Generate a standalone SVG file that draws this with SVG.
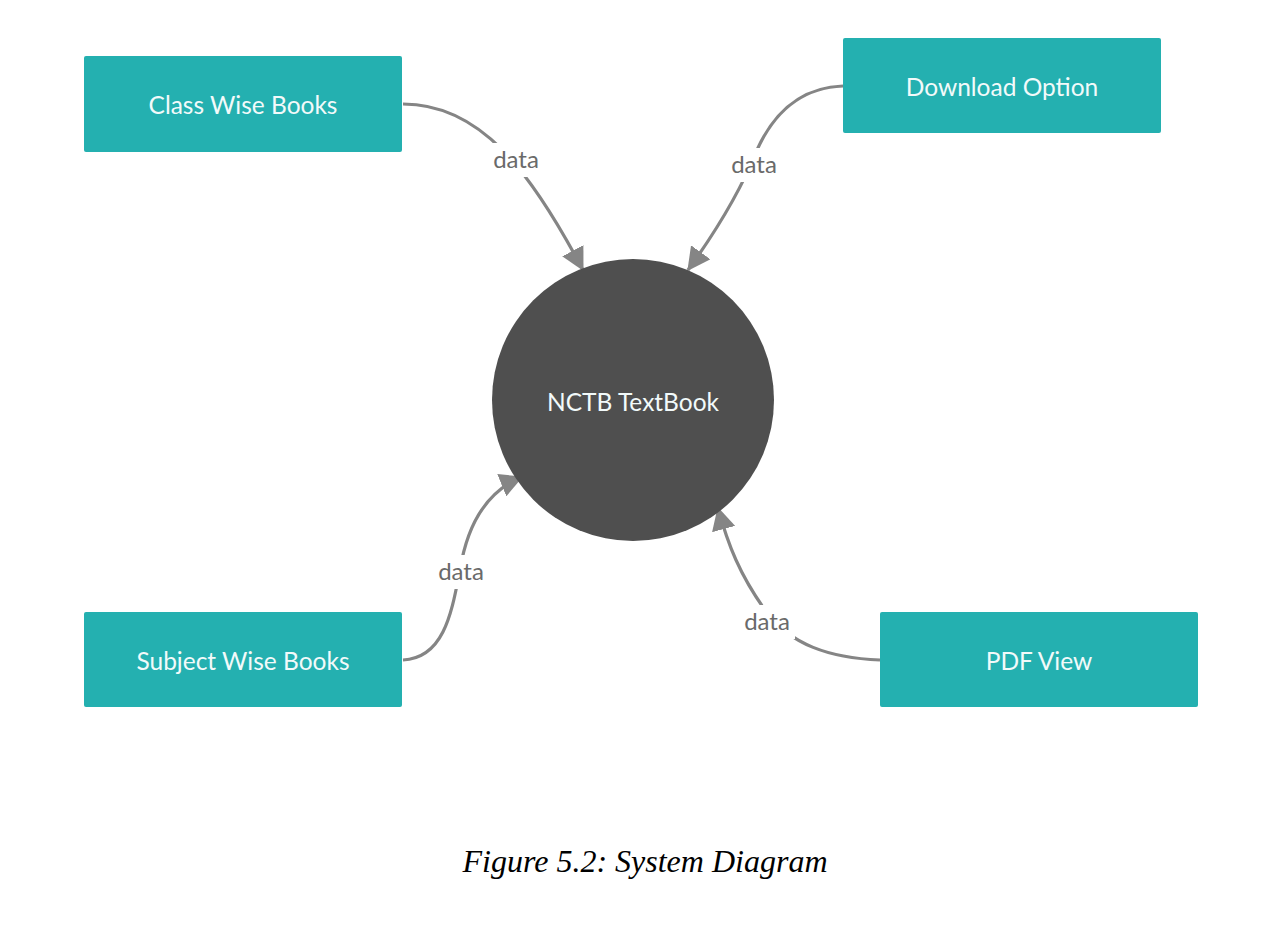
<svg xmlns="http://www.w3.org/2000/svg" width="1286" height="930" viewBox="0 0 1286 930">
<style>
.box{fill:#24b0b0;}
.btxt{font-family:Lato,"Open Sans",sans-serif;font-size:24.5px;fill:#f2fafa;text-anchor:middle;}
.conn{fill:none;stroke:#858585;stroke-width:3.2;}
.lbl{font-family:Lato,"Open Sans",sans-serif;font-size:24px;fill:#6a6a6a;text-anchor:middle;}
.lblbg{fill:#ffffff;}
.cap{font-family:"Liberation Serif","Times New Roman",serif;font-style:italic;font-size:32px;fill:#000;text-anchor:middle;}
</style>
<defs>
<marker id="arr" markerUnits="userSpaceOnUse" markerWidth="24" markerHeight="24" refX="20" refY="11" orient="auto" viewBox="0 0 22 22">
<path d="M0,0 L21,11 L0,22 z" fill="#858585"/>
</marker>
</defs>
<rect width="1286" height="930" fill="#ffffff"/>
<g id="connectors">
<path class="conn" d="M403,104 C 480,104 530,170 583,270" marker-end="url(#arr)"/>
<path class="conn" d="M843,86 Q 785,88 757,150 Q 735,205 688,270" marker-end="url(#arr)"/>
<path class="conn" d="M403,660 C 445,658 452,610 460,570 C 468,520 490,490 522,477" marker-end="url(#arr)"/>
<path class="conn" d="M880,660 C 830,658 790,645 765,610 C 740,575 728,545 718,508" marker-end="url(#arr)"/>
<rect class="lblbg" x="488" y="143" width="56" height="34"/>
<text class="lbl" x="516" y="168">data</text>
<rect class="lblbg" x="726" y="148" width="56" height="34"/>
<text class="lbl" x="754" y="173">data</text>
<rect class="lblbg" x="433" y="555" width="56" height="34"/>
<text class="lbl" x="461" y="580">data</text>
<rect class="lblbg" x="739" y="605" width="56" height="34"/>
<text class="lbl" x="767" y="630">data</text>
</g>
<g id="node-class">
<rect class="box" x="84" y="56" width="318" height="96" rx="2"/>
<text class="btxt" x="243" y="114">Class Wise Books</text>
</g>
<g id="node-download">
<rect class="box" x="843" y="38" width="318" height="95" rx="2"/>
<text class="btxt" x="1002" y="96">Download Option</text>
</g>
<g id="node-subject">
<rect class="box" x="84" y="612" width="318" height="95" rx="2"/>
<text class="btxt" x="243" y="670">Subject Wise Books</text>
</g>
<g id="node-pdf">
<rect class="box" x="880" y="612" width="318" height="95" rx="2"/>
<text class="btxt" x="1039" y="670">PDF View</text>
</g>
<g id="node-center">
<circle cx="633" cy="400" r="141" fill="#4f4f4f"/>
<text class="btxt" x="633" y="411">NCTB TextBook</text>
</g>
<text class="cap" x="645" y="872">Figure 5.2: System Diagram</text>
</svg>
